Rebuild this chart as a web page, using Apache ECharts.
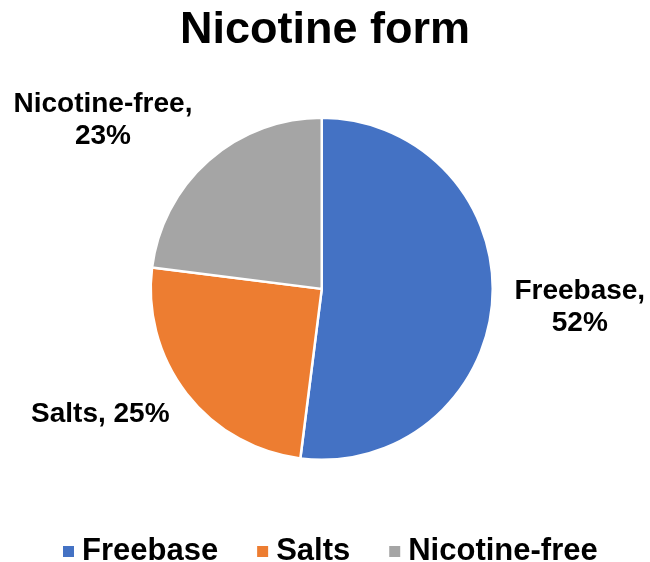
<!DOCTYPE html>
<html>
<head>
<meta charset="utf-8">
<script src="https://cdn.jsdelivr.net/npm/echarts@6/dist/echarts.min.js"></script>
<style>
  html, body { margin: 0; padding: 0; background: #fff; }
  #chart { width: 650px; height: 562px; }
</style>
</head>
<body>
<div id="chart"></div>
<script>
// Share of products by nicotine form
const categories = ['Freebase', 'Salts', 'Nicotine-free'];
const shares = [52, 25, 23];
const colors = ['#4472C4', '#ED7D31', '#A5A5A5'];
const labelTexts = ['Freebase,\n52%', 'Salts, 25%', 'Nicotine-free,\n23%'];

const FONT = '"Liberation Sans", Arial, sans-serif';
// small per-slice nudges for the outside labels (px)
const labelNudge = [[3, 7], [-1, 12], [-2, -30]];

const chart = echarts.init(document.getElementById('chart'), null, { renderer: 'canvas' });

chart.setOption({
  animation: false,
  color: colors,
  title: {
    text: 'Nicotine form',
    left: 'center',
    top: 3,
    textStyle: { fontFamily: FONT, fontSize: 45, fontWeight: 'bold', color: '#000' }
  },
  legend: {
    data: categories,
    top: 531,
    left: 56,
    icon: 'rect',
    itemWidth: 13,
    itemHeight: 13,
    itemGap: 37,
    textStyle: { fontFamily: FONT, fontSize: 31, fontWeight: 'bold', color: '#000', padding: [0, 0, 0, 2] }
  },
  series: [{
    type: 'pie',
    center: ['49.5%', '51.4%'],
    radius: 171,
    startAngle: 90,
    clockwise: true,
    avoidLabelOverlap: false,
    itemStyle: { borderColor: '#fff', borderWidth: 2.5 },
    label: {
      show: true,
      position: 'outside',
      formatter: (p) => labelTexts[p.dataIndex],
      fontFamily: FONT,
      fontSize: 28,
      fontWeight: 'bold',
      color: '#000',
      lineHeight: 32
    },
    labelLine: { show: false, length: 14, length2: 0 },
    labelLayout: (params) => {
      // centre multi-line labels on their own block
      const w = params.labelRect.width;
      const onLeft = params.labelRect.x + w / 2 < 322;
      const n = labelNudge[params.dataIndex];
      return { align: 'center', dx: (onLeft ? -w / 2 : w / 2) + n[0], dy: n[1] };
    },
    data: categories.map((name, i) => ({ name, value: shares[i] }))
  }]
});
</script>
</body>
</html>
